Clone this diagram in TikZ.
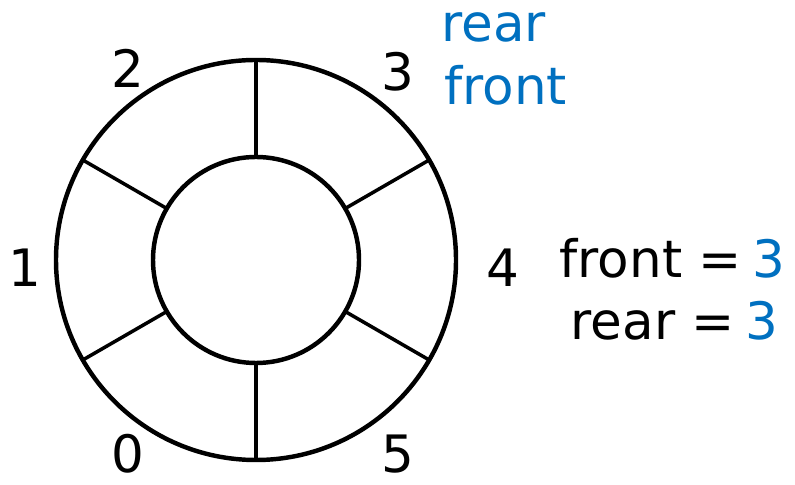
\documentclass[tikz,border=0pt]{standalone}
\usepackage{fontspec}
\setmainfont{DejaVu Sans}
\usepackage{tikz}
\definecolor{qblue}{RGB}{0,112,192}

\begin{document}
\begin{tikzpicture}[x=0.03cm, y=0.03cm,
			ring/.style={draw, circle, line width=3.8pt, inner sep=0pt, outer sep=0pt},
			spoke/.style={line width=3pt},
			lbl/.style={font=\fontsize{44}{50}\selectfont, inner sep=0pt},
			ptr/.style={lbl, text=qblue, anchor=base west}]
			% Bildbereich
			\useasboundingbox (0,0) rectangle (795,485);
			% Ringpuffer zeichnen
			\node[ring, minimum size=12cm] (outer) at (256,225) {};
			\node[ring, minimum size=6.18cm] (inner) at (256,225) {};
			\foreach \a in {30,90,150,210,270,330} \draw[spoke] (inner.\a) -- (outer.\a);
			% Indizes
			\node[lbl] (i0) at (128,31) {0};
			\node[lbl] (i1) at (25,217) {1};
			\node[lbl] (i2) at (128,417) {2};
			\node[lbl] (i3) at (398,413) {3};
			\node[lbl] (i4) at (503,217) {4};
			\node[lbl] (i5) at (398,31) {5};
			% Zeiger
			\node[ptr] (prear) at (441,443) {rear};
			\node[ptr] (pfront) at (444,380) {front};
			% Werte
			\node[lbl, anchor=base east] (vfront) at (742,207) {front =};
			\node[lbl, anchor=base west, text=qblue] (nfront) at (752,207) {3};
			\node[lbl, anchor=base east] (vrear) at (735,145) {rear =};
			\node[lbl, anchor=base west, text=qblue] (nrear) at (745,145) {3};
		\end{tikzpicture}
\end{document}
